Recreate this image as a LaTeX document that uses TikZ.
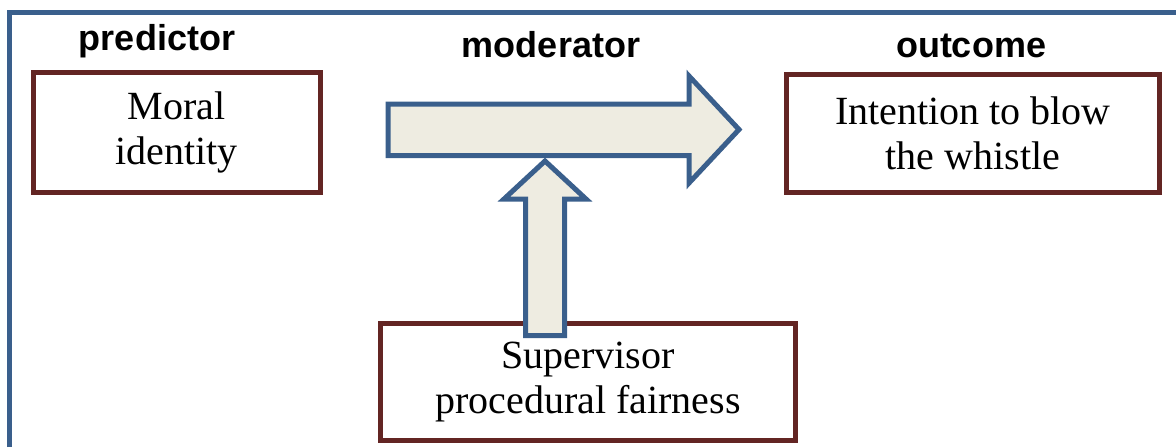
\documentclass[tikz,border=0pt]{standalone}
\usepackage{fontspec}
\setmainfont{Liberation Serif}
\newfontfamily\headfont{Liberation Sans}
\usetikzlibrary{positioning}

\definecolor{frameblue}{HTML}{3A5F8C}
\definecolor{boxred}{HTML}{632523}
\definecolor{arrowfill}{HTML}{EEECE1}

\tikzset{
  varbox/.style={draw=boxred, line width=2.5pt, fill=white, align=center, inner sep=0pt,
    font=\fontsize{20}{22.5}\selectfont},
  role/.style={anchor=base, font=\headfont\bfseries\fontsize{18}{21}\selectfont},
  blockarrow/.style={draw=frameblue, fill=arrowfill, line width=2.5pt, miter limit=10}
}

\begin{document}
\begin{tikzpicture}[x=0.5pt, y=-0.5pt]
  \useasboundingbox (0,0) rectangle (1176,447);
  % outer frame (cut off at right and bottom)
  \draw[frameblue, line width=2.5pt] (9.8,447) |- (1176,12.5);

  % column headings
  \node (predictor) [role] at (157,50) {predictor};
  \node (moderator) [role] at (551,57.3) {moderator};
  \node (outcome) [role] at (971,57.3) {outcome};

  % variables
  \node (moral) [varbox, minimum width=143.25pt, minimum height=60pt] at (176.75,132) {Moral\\identity};
  \node (whistle) [varbox, minimum width=186.5pt, minimum height=59pt] at (973,133.5) {Intention to blow\\the whistle};
  \node (fair) [varbox, minimum width=207.5pt, minimum height=58.5pt] at (588,382) {Supervisor\\procedural fairness};

  % main effect arrow
  \coordinate (tipmain) at (739,129.5);
  \draw[blockarrow] (388,104) -- (689,104) -- (689,76) -- (tipmain)
    -- (689,183) -- (689,155.5) -- (388,155.5) -- cycle;

  % moderating arrow, from the fairness box up to the main arrow
  \coordinate (tipmod) at (545,161);
  \draw[blockarrow] (525.5,335.5) -- (525.5,199) -- (504,199) -- (tipmod)
    -- (586,199) -- (564.5,199) -- (564.5,335.5) -- cycle;
\end{tikzpicture}
\end{document}
